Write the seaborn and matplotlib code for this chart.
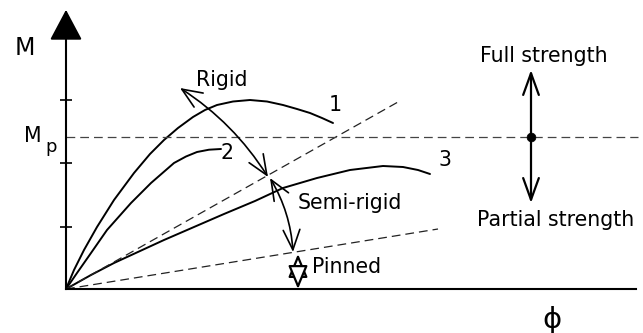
import numpy as np
import pandas as pd
import seaborn as sns
import matplotlib
matplotlib.use("Agg")
import matplotlib.pyplot as plt

# Moment-rotation curves, values (rotation phi, moment M)
curve1_phi = [0, 8, 18, 31, 48, 68, 84, 98, 112, 127, 139, 151, 167, 184, 201, 217, 231, 244, 256, 267]
curve1_m = [0, 19, 39, 62, 89, 116, 135, 149, 161, 172, 179, 184, 187.5, 189, 187.5, 184, 180, 176, 171, 166]

curve2_phi = [0, 11, 25, 41, 65, 85, 108, 120, 131, 143, 155]
curve2_m = [0, 16, 36, 59, 86, 106, 126, 132.5, 137, 139.3, 140]

curve3_phi = [0, 25, 48, 98, 128, 158, 189, 217, 251, 284, 317, 337, 352, 364]
curve3_m = [0, 14, 26, 49, 62, 75, 88, 101, 111, 119, 123, 122, 119, 115]

# classification boundaries
rigid_phi, rigid_m = [0, 332], [0, 187]
pinned_phi, pinned_m = [0, 372], [0, 60]
mp_phi, mp_m = [0, 572], [152, 152]

m_ticks = [62, 126, 189]

sns.set_theme(style="white")
plt.rcParams["font.family"] = ["DejaVu Sans"]
plt.rcParams["text.color"] = "black"

fig = plt.figure(figsize=(6.43, 3.33), dpi=100)
ax = fig.add_axes([0, 0, 1, 1])
ax.set_xlim(-66, 577)
ax.set_ylim(-44, 289)

# curves
for phi, m in [(curve1_phi, curve1_m), (curve2_phi, curve2_m), (curve3_phi, curve3_m)]:
    sns.lineplot(x=phi, y=m, sort=False, estimator=None, color="black", lw=1.4, ax=ax)

# dashed reference lines
for phi, m, col in [(rigid_phi, rigid_m, "#222222"), (pinned_phi, pinned_m, "#222222"),
                    (mp_phi, mp_m, "#444444")]:
    sns.lineplot(x=phi, y=m, sort=False, estimator=None, color=col, lw=0.9,
                 linestyle=(0, (7, 4)), ax=ax)

# axes as spines through the origin
for s in ["top", "right"]:
    ax.spines[s].set_visible(False)
ax.spines["left"].set_position(("data", 0))
ax.spines["bottom"].set_position(("data", 0))
ax.spines["left"].set_bounds(0, 265)
ax.spines["bottom"].set_bounds(0, 570)
for s in ["left", "bottom"]:
    ax.spines[s].set_linewidth(1.5)
    ax.spines[s].set_color("black")
ax.set_yticks(m_ticks)
ax.set_yticklabels([])
ax.set_xticks([])
ax.tick_params(axis="y", direction="inout", length=8, width=1.2, color="black", left=True)

# axis arrow heads
ax.annotate("", xy=(0, 282), xytext=(0, 255),
            arrowprops=dict(arrowstyle="-|>,head_length=1.6,head_width=0.85",
                            fc="black", ec="black", lw=1.5))
ax.annotate("", xy=(588, 0), xytext=(560, 0),
            arrowprops=dict(arrowstyle="-|>,head_length=1.6,head_width=0.8",
                            fc="black", ec="black", lw=1.5))

# classification arrows
ax.annotate("", xy=(202, 112), xytext=(114, 201),
            arrowprops=dict(arrowstyle="<->,head_length=1.2,head_width=0.5",
                            connectionstyle="arc3,rad=-0.11", color="black", lw=1.2,
                            shrinkA=0, shrinkB=0))
ax.annotate("", xy=(227, 37), xytext=(204, 111),
            arrowprops=dict(arrowstyle="<->,head_length=1.2,head_width=0.5",
                            connectionstyle="arc3,rad=-0.12", color="black", lw=1.2,
                            shrinkA=0, shrinkB=0))
ax.annotate("", xy=(232, 0), xytext=(232, 35),
            arrowprops=dict(arrowstyle="<|-|>,head_length=1.2,head_width=0.5",
                            fc="white", ec="black", lw=1.6, shrinkA=0, shrinkB=0))

# strength arrow
ax.annotate("", xy=(465, 219), xytext=(465, 86),
            arrowprops=dict(arrowstyle="<->,head_length=1.3,head_width=0.47",
                            color="black", lw=1.6, shrinkA=0, shrinkB=0))
sns.scatterplot(x=[465], y=[152], color="black", s=40, edgecolor="black", ax=ax, zorder=5)

fs = 14.8
ax.text(-41, 241, "M", fontsize=17, ha="center", va="center")
ax.text(-33, 153, "M", fontsize=fs, ha="center", va="center")
ax.text(-15, 142, "p", fontsize=13, ha="center", va="center")
ax.text(156, 209, "Rigid", fontsize=fs, ha="center", va="center")
ax.text(269, 184, "1", fontsize=fs, ha="center", va="center")
ax.text(161, 136, "2", fontsize=fs, ha="center", va="center")
ax.text(379, 129, "3", fontsize=fs, ha="center", va="center")
ax.text(284, 86, "Semi-rigid", fontsize=fs, ha="center", va="center")
ax.text(281, 22, "Pinned", fontsize=fs, ha="center", va="center")
ax.text(478, 233, "Full strength", fontsize=fs, ha="center", va="center")
ax.text(490, 69, "Partial strength", fontsize=fs, ha="center", va="center")
ax.text(486, -31, "\u03d5", fontsize=21, ha="center", va="center")

fig.savefig("out.png", dpi=100)
